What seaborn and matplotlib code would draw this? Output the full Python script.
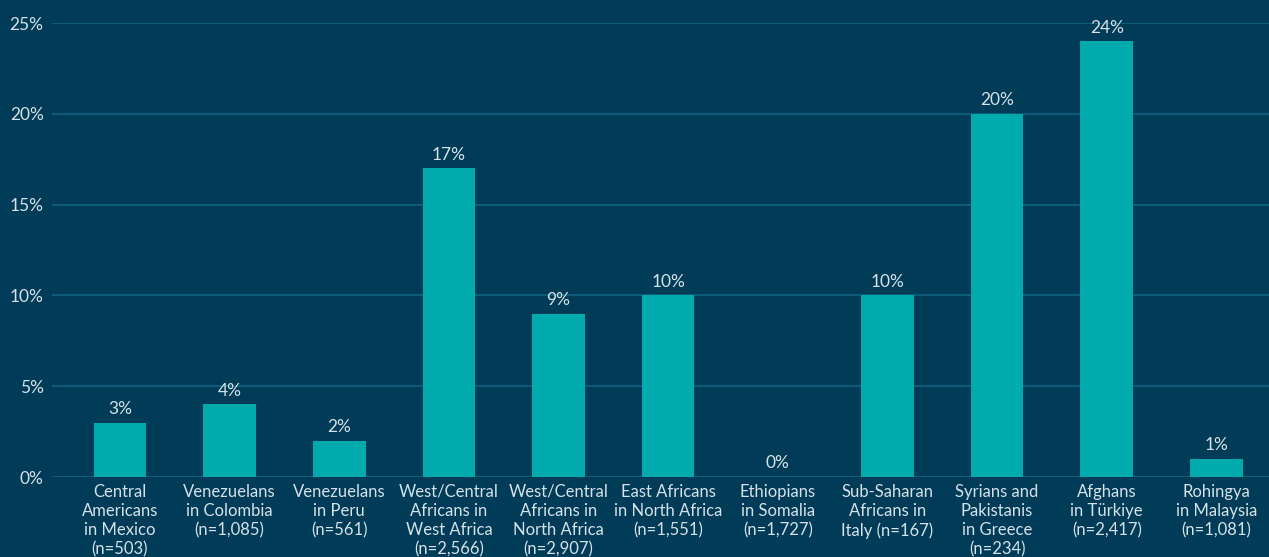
import pandas as pd
import seaborn as sns
import matplotlib.pyplot as plt

# Data
groups = ["Central\nAmericans\nin Mexico\n(n=503)",
          "Venezuelans\nin Colombia\n(n=1,085)",
          "Venezuelans\nin Peru\n(n=561)",
          "West/Central\nAfricans in\nWest Africa\n(n=2,566)",
          "West/Central\nAfricans in\nNorth Africa\n(n=2,907)",
          "East Africans\nin North Africa\n(n=1,551)",
          "Ethiopians\nin Somalia\n(n=1,727)",
          "Sub-Saharan\nAfricans in\nItaly (n=167)",
          "Syrians and\nPakistanis\nin Greece\n(n=234)",
          "Afghans\nin Türkiye\n(n=2,417)",
          "Rohingya\nin Malaysia\n(n=1,081)"]
percent = [3, 4, 2, 17, 9, 10, 0, 10, 20, 24, 1]
yticks = [0, 5, 10, 15, 20, 25]

df = pd.DataFrame({'group': groups, 'percent': percent})

bg = '#003b57'
bar_color = '#00aaad'
grid_color = '#0b5b79'
text_color = '#d6e1e8'

sns.set_style('white')
plt.rcParams['font.family'] = ['Lato', 'DejaVu Sans']

fig = plt.figure(figsize=(12.69, 5.57), dpi=100, facecolor=bg)
ax = fig.add_axes([52 / 1269, 80 / 557, 1 - 52 / 1269, 454 / 557])
ax.set_facecolor(bg)

sns.barplot(data=df, x='group', y='percent', color=bar_color, width=0.48,
            saturation=1, linewidth=0, ax=ax, zorder=3)

# value labels above bars
for i, v in enumerate(percent):
    ax.annotate(f'{v}%', (i, v), xytext=(0, 4), textcoords='offset points',
                ha='center', va='bottom', color=text_color, fontsize=12.5)

ax.set_ylim(0, 25)
ax.set_xlim(-0.62, 10.48)
ax.set_yticks(yticks)
ax.set_yticklabels([f'{t}%' for t in yticks])
ax.grid(axis='y', color=grid_color, linewidth=1.5, zorder=0)
ax.set_axisbelow(True)
for s in ax.spines.values():
    s.set_visible(False)

ax.tick_params(axis='both', length=0, colors=text_color)
ax.tick_params(axis='x', pad=5, labelsize=12)
ax.tick_params(axis='y', pad=6, labelsize=12.5)
for lab in ax.get_xticklabels():
    lab.set_linespacing(1.25)
ax.set_xlabel('')
ax.set_ylabel('')

fig.savefig('out.png', dpi=100, facecolor=bg)
